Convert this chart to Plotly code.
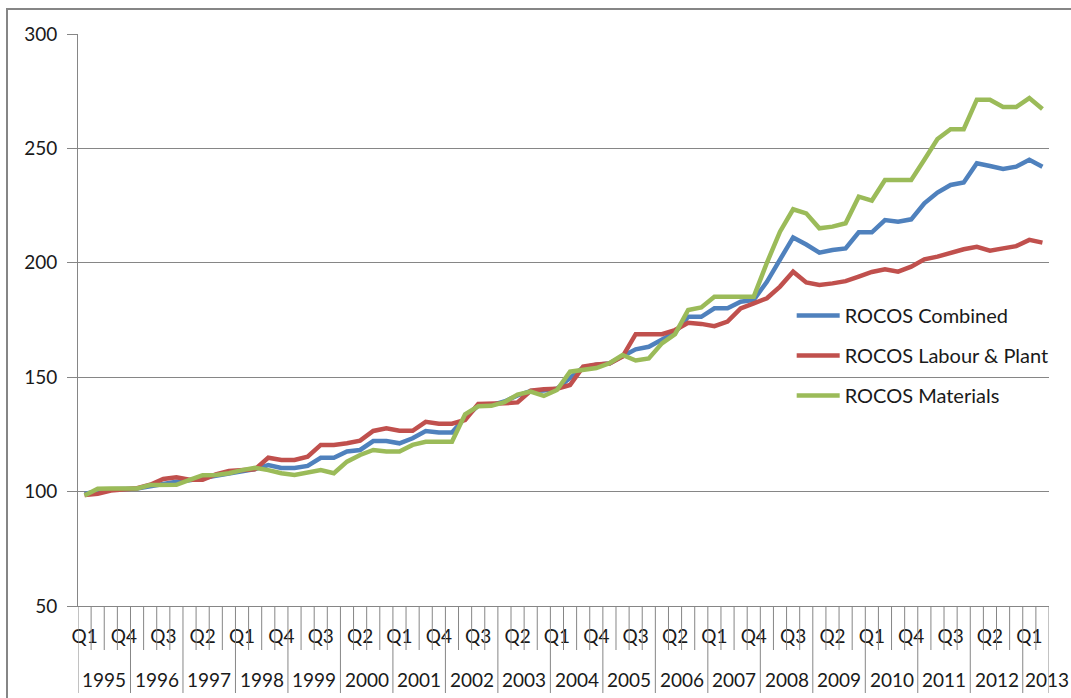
import plotly.graph_objects as go

# ---- data ----
years = list(range(1995, 2014))
quarters = ["Q1", "Q2", "Q3", "Q4"]
n_points = 74  # 1995 Q1 .. 2013 Q2

combined = [99.0, 100.3, 101.0, 101.0, 101.3, 102.3, 103.5, 104.3, 105.0, 106.0,
            106.8, 108.0, 109.0, 109.8, 111.6, 110.3, 110.3, 111.2, 114.8, 114.8,
            117.5, 118.2, 122.1, 122.1, 121.1, 123.3, 126.5, 125.8, 125.8, 132.3,
            137.6, 137.8, 139.4, 142.0, 144.0, 144.2, 145.0, 149.5, 154.3, 155.5,
            156.0, 159.2, 162.2, 163.3, 166.3, 169.5, 176.4, 176.4, 180.1, 180.1,
            183.0, 183.8, 191.7, 201.2, 211.1, 208.0, 204.4, 205.6, 206.3, 213.3,
            213.3, 218.7, 218.0, 219.0, 226.0, 230.7, 234.0, 235.1, 243.5, 242.3,
            241.0, 242.0, 245.0, 242.0]

labour_plant = [98.5, 99.0, 100.5, 101.0, 101.5, 103.0, 105.5, 106.3, 105.2, 105.2,
                107.5, 109.0, 109.4, 109.8, 114.8, 113.8, 113.8, 115.3, 120.4, 120.4,
                121.1, 122.3, 126.5, 127.7, 126.6, 126.6, 130.5, 129.7, 129.7, 131.3,
                138.3, 138.3, 138.6, 139.0, 144.1, 144.7, 144.9, 146.6, 154.6, 155.6,
                156.0, 159.0, 168.8, 168.8, 168.8, 170.6, 173.8, 173.3, 172.3, 174.3,
                180.1, 182.3, 184.5, 189.6, 196.1, 191.4, 190.3, 191.0, 192.0, 194.0,
                196.0, 197.2, 196.1, 198.3, 201.5, 202.7, 204.4, 205.9, 207.0, 205.3,
                206.3, 207.3, 210.0, 208.8]

materials = [98.3, 101.2, 101.4, 101.4, 101.4, 102.9, 102.9, 103.0, 105.1, 107.2,
             107.3, 108.0, 109.4, 110.4, 109.4, 108.0, 107.3, 108.3, 109.4, 108.0,
             113.1, 116.0, 118.2, 117.5, 117.5, 120.4, 121.8, 121.8, 121.8, 133.8,
             137.3, 137.5, 139.1, 142.4, 143.7, 141.8, 144.4, 152.4, 153.0, 154.0,
             156.1, 159.7, 157.3, 158.2, 164.8, 168.8, 179.4, 180.5, 185.2, 185.2,
             185.2, 185.2, 200.0, 213.6, 223.4, 221.6, 215.1, 215.8, 217.3, 228.9,
             227.2, 236.2, 236.2, 236.2, 245.0, 254.1, 258.4, 258.4, 271.3, 271.3,
             268.1, 268.1, 272.0, 267.2]

series_names = ["ROCOS Combined", "ROCOS Labour & Plant", "ROCOS Materials"]
series_colors = ["#4F81BD", "#C0504D", "#9BBB59"]

# categories (year, quarter)
cat_year = [years[i // 4] for i in range(n_points)]
cat_q = [quarters[i % 4] for i in range(n_points)]
xs = list(range(n_points))

FONT = "Lato"
GREY = "#868686"
TXT = "#1a1a1a"

fig = go.Figure()
for name, vals, col in zip(series_names, [combined, labour_plant, materials], series_colors):
    fig.add_trace(go.Scatter(
        x=xs, y=vals, mode="lines", name=name, legendgroup=name,
        line=dict(color=col, width=4.5),
    ))

tickvals = xs[::3]
ticktext = [cat_q[i] for i in tickvals]

fig.update_layout(
    width=1071, height=698, autosize=False,
    margin=dict(l=78, r=22, t=34, b=92),
    paper_bgcolor="white", plot_bgcolor="white",
    font=dict(family=FONT, size=19, color=TXT),
    showlegend=True,
    legend=dict(x=0.735, y=0.542, xanchor="left", yanchor="top",
                bgcolor="rgba(0,0,0,0)", tracegroupgap=11, itemwidth=43,
                font=dict(family=FONT, size=20, color=TXT)),
    xaxis=dict(range=[-0.5, n_points - 0.5], tickmode="array", tickvals=tickvals,
               ticktext=ticktext, ticks="", showgrid=False, zeroline=False,
               showline=True, linecolor=GREY, linewidth=1,
               ticklabelstandoff=13,
               tickfont=dict(family=FONT, size=19, color=TXT)),
    yaxis=dict(range=[50, 300], tickmode="linear", tick0=50, dtick=50,
               showgrid=True, gridcolor=GREY, gridwidth=1, zeroline=False,
               showline=True, linecolor=GREY, linewidth=1,
               ticks="outside", ticklen=10, tickcolor=GREY,
               ticklabelstandoff=6,
               tickfont=dict(family=FONT, size=19, color=TXT)),
)

# category divider lines and year labels (two-level category axis)
H = 572.0
short_y = -44 / H
long_y = -87 / H
for i in range(n_points + 1):
    boundary = (i % 4 == 0) or (i == n_points)
    fig.add_shape(type="line", xref="x", yref="paper",
                  x0=i - 0.5, x1=i - 0.5, y0=0, y1=long_y if boundary else short_y,
                  line=dict(color=GREY, width=1))

for y in years:
    idx = [i for i in range(n_points) if cat_year[i] == y]
    if len(idx) < 4:
        # short last group: label starts at its divider line
        fig.add_annotation(x=idx[0] - 0.45, y=-73 / H, xref="x", yref="paper",
                           text=str(y), showarrow=False, xanchor="left",
                           yanchor="middle",
                           font=dict(family=FONT, size=19, color=TXT))
    else:
        mid = (idx[0] + idx[-1]) / 2
        fig.add_annotation(x=mid, y=-73 / H, xref="x", yref="paper", text=str(y),
                           showarrow=False, xanchor="center", yanchor="middle",
                           font=dict(family=FONT, size=19, color=TXT))

# outer chart border (cropped at right and bottom)
fig.add_shape(type="rect", xref="paper", yref="paper",
              x0=-71 / 971, x1=1.2, y0=-0.4, y1=1 + 25 / H,
              line=dict(color=GREY, width=2), fillcolor="rgba(0,0,0,0)", layer="below")

fig.write_html("out.html")
